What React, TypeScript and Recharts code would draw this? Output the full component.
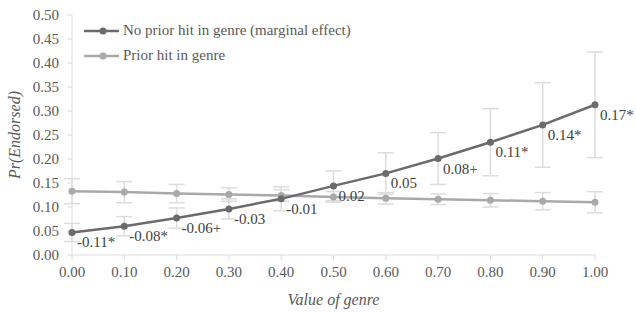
import { LineChart, Line, XAxis, YAxis, ErrorBar, LabelList } from 'recharts';

document.body.style.margin = '0';

const genreValues = [0, 0.1, 0.2, 0.3, 0.4, 0.5, 0.6, 0.7, 0.8, 0.9, 1.0];
const noPriorHit = [0.047, 0.060, 0.077, 0.096, 0.117, 0.144, 0.170, 0.201, 0.235, 0.271, 0.313];
const noPriorHitErr = [0.019, 0.020, 0.021, 0.021, 0.025, 0.031, 0.043, 0.054, 0.070, 0.088, 0.110];
const priorHit = [0.133, 0.131, 0.128, 0.126, 0.124, 0.121, 0.118, 0.116, 0.114, 0.112, 0.110];
const priorHitErr = [0.026, 0.022, 0.019, 0.014, 0.012, 0.011, 0.012, 0.011, 0.014, 0.018, 0.022];
const effectLabels = ['-0.11*', '-0.08*', '-0.06+', '-0.03', '-0.01', '0.02', '0.05', '0.08+', '0.11*', '0.14*', '0.17*'];
const xTicks = [0, 0.1, 0.2, 0.3, 0.4, 0.5, 0.6, 0.7, 0.8, 0.9, 1.0];
const yTicks = [0, 0.05, 0.1, 0.15, 0.2, 0.25, 0.3, 0.35, 0.4, 0.45, 0.5];

const DARK = '#6b6b6b';
const LIGHT = '#a9a9a9';
const BAR = '#dcdcdc';
const TEXT = '#595959';
const FONT = '"Liberation Serif", "Times New Roman", serif';

const data = genreValues.map((g, i) => ({
    genre: g,
    noPrior: noPriorHit[i],
    noPriorErr: noPriorHitErr[i],
    prior: priorHit[i],
    priorErr: priorHitErr[i],
    label: effectLabels[i],
}));

const legendItems = [
    { name: 'No prior hit in genre (marginal effect)', color: DARK },
    { name: 'Prior hit in genre', color: LIGHT },
];

const EffectLabel = (props: any) => {
    const { x, y, value } = props;
    return (
        <text x={x + 5} y={y + 15} fill="#404040" fontSize={15} fontFamily={FONT}>
            {value}
        </text>
    );
};

export default function App() {
    return (
        <div style={{ position: 'relative', width: 636, height: 312, fontFamily: FONT }}>
            <LineChart width={636} height={312} data={data} margin={{ top: 15, right: 41, bottom: 0, left: 0 }} style={{ fontFamily: FONT }}>
                <XAxis
                    dataKey="genre"
                    type="number"
                    domain={[0, 1]}
                    ticks={xTicks}
                    height={57}
                    tickFormatter={(v: number) => v.toFixed(2)}
                    stroke={BAR}
                    tick={{ fill: TEXT, fontSize: 15, fontFamily: FONT }}
                    tickSize={5}
                    tickMargin={6}
                    label={{ value: 'Value of genre', position: 'insideBottom', offset: 7, fill: TEXT, fontSize: 16, fontFamily: FONT, fontStyle: 'italic' }}
                />
                <YAxis
                    type="number"
                    domain={[0, 0.5]}
                    ticks={yTicks}
                    width={72}
                    tickFormatter={(v: number) => v.toFixed(2)}
                    stroke={BAR}
                    tick={{ fill: TEXT, fontSize: 15, fontFamily: FONT }}
                    tickSize={5}
                    tickMargin={8}
                    label={{ value: 'Pr(Endorsed)', angle: -90, position: 'insideLeft', offset: 14, fill: TEXT, fontSize: 16, fontFamily: FONT, fontStyle: 'italic', style: { textAnchor: 'middle' } }}
                />
                <Line
                    dataKey="prior"
                    name="Prior hit in genre"
                    stroke={LIGHT}
                    strokeWidth={2.5}
                    dot={{ r: 3.5, fill: LIGHT, stroke: LIGHT, strokeWidth: 0 }}
                    isAnimationActive={false}
                >
                    <ErrorBar dataKey="priorErr" direction="y" width={8} stroke={BAR} strokeWidth={1.5} />
                </Line>
                <Line
                    dataKey="noPrior"
                    name="No prior hit in genre (marginal effect)"
                    stroke={DARK}
                    strokeWidth={2.5}
                    dot={{ r: 3.5, fill: DARK, stroke: DARK, strokeWidth: 0 }}
                    isAnimationActive={false}
                >
                    <ErrorBar dataKey="noPriorErr" direction="y" width={8} stroke={BAR} strokeWidth={1.5} />
                    <LabelList dataKey="label" content={<EffectLabel />} />
                </Line>
            </LineChart>
            {/* legend, top-left inside the plot */}
            <div style={{ position: 'absolute', left: 84, top: 18, fontSize: 15, color: TEXT, lineHeight: '25px' }}>
                {legendItems.map((item) => (
                    <div key={item.name} style={{ display: 'flex', alignItems: 'center', height: 25 }}>
                        <svg width={38} height={10} style={{ marginRight: 1 }}>
                            <line x1={0} y1={5} x2={35} y2={5} stroke={item.color} strokeWidth={2.5} />
                            <circle cx={19} cy={5} r={3.5} fill={item.color} />
                        </svg>
                        <span>{item.name}</span>
                    </div>
                ))}
            </div>
        </div>
    );
}
